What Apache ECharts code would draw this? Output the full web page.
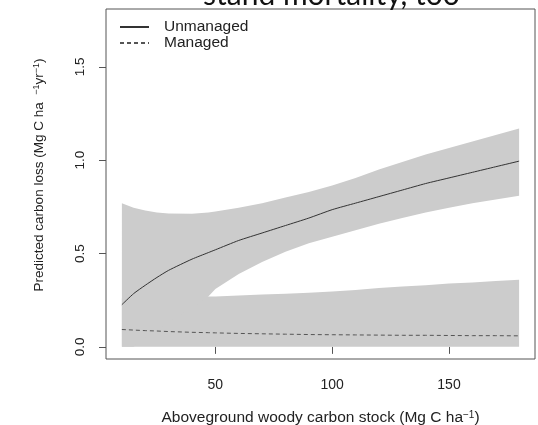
<!DOCTYPE html>
<html>
<head>
<meta charset="utf-8">
<script src="https://cdn.jsdelivr.net/npm/echarts@6/dist/echarts.min.js"></script>
<style>html,body{margin:0;padding:0;background:#fff;}#c{width:538px;height:425px;}</style>
</head>
<body>
<div id="c"></div>
<script>
const xs      = [10, 15, 20, 25, 30, 40, 47, 50, 60, 70, 80, 90, 100, 110, 120, 130, 140, 150, 160, 170, 180];
const unmanagedMean  = [0.226, 0.285, 0.33, 0.372, 0.41, 0.47, 0.505, 0.52, 0.57, 0.61, 0.65, 0.69, 0.735, 0.77, 0.805, 0.84, 0.875, 0.905, 0.935, 0.965, 0.995];
const unmanagedUpper = [0.77, 0.745, 0.73, 0.72, 0.715, 0.713, 0.72, 0.725, 0.745, 0.77, 0.80, 0.83, 0.865, 0.905, 0.95, 0.99, 1.03, 1.065, 1.10, 1.135, 1.17];
const unmanagedLower = [0.0, 0.0, 0.05, 0.09, 0.13, 0.21, 0.27, 0.31, 0.39, 0.455, 0.51, 0.555, 0.59, 0.625, 0.66, 0.69, 0.72, 0.745, 0.77, 0.79, 0.81];
const managedMean    = [0.093, 0.09, 0.087, 0.085, 0.082, 0.078, 0.076, 0.075, 0.072, 0.07, 0.068, 0.066, 0.065, 0.064, 0.063, 0.062, 0.062, 0.061, 0.06, 0.06, 0.059];
const managedUpper   = [0.26, 0.262, 0.264, 0.265, 0.266, 0.268, 0.27, 0.27, 0.275, 0.28, 0.285, 0.29, 0.297, 0.305, 0.315, 0.323, 0.33, 0.34, 0.345, 0.353, 0.36];
const managedLower   = [0, 0, 0, 0, 0, 0, 0, 0, 0, 0, 0, 0, 0, 0, 0, 0, 0, 0, 0, 0, 0];
const seriesNames = ['Unmanaged', 'Managed'];
const xTicks = [50, 100, 150];
const yTicks = [0, 0.5, 1.0, 1.5];
const titleText = 'stand mortality, too';

const FONT = '"Liberation Sans", Arial, sans-serif';
const chart = echarts.init(document.getElementById('c'), null, {renderer: 'canvas'});

function band(upper, lower) {
  return {
    type: 'custom',
    silent: true,
    clip: true,
    data: [[xs[0], lower[0]]],
    renderItem: function (params, api) {
      const pts = [];
      for (let i = 0; i < xs.length; i++) pts.push(api.coord([xs[i], upper[i]]));
      for (let i = xs.length - 1; i >= 0; i--) pts.push(api.coord([xs[i], lower[i]]));
      return {type: 'polygon', shape: {points: pts}, style: {fill: '#cccccc', stroke: null}};
    },
    z: 1
  };
}

const option = {
  backgroundColor: '#ffffff',
  animation: false,
  textStyle: {fontFamily: FONT},
  grid: {left: 106, right: 3, top: 9, bottom: 66, show: true, borderColor: '#555', borderWidth: 1,
    backgroundColor: 'transparent', containLabel: false, outerBoundsMode: 'none'},
  legend: {
    left: 119, top: 19, orient: 'vertical', itemWidth: 29, itemHeight: 14, itemGap: 0,
    padding: 0,
    data: seriesNames,
    itemStyle: {opacity: 0},
    textStyle: {fontFamily: FONT, fontSize: 15.5, color: '#222', padding: [0, 0, 0, 10]}
  },
  xAxis: {
    type: 'value', min: 3.2, max: 186.8,
    axisLine: {show: false},
    splitLine: {show: false},
    axisTick: {show: true, length: 7, customValues: xTicks, lineStyle: {color: '#555'}},
    axisLabel: {customValues: xTicks, fontSize: 14, color: '#222', margin: 19, fontFamily: FONT},
    name: 'Aboveground woody carbon stock (Mg C ha{sup|\u22121})',
    nameLocation: 'middle', nameGap: 51,
    nameTextStyle: {fontSize: 15.5, color: '#222', fontFamily: FONT,
      rich: {sup: {fontSize: 10, verticalAlign: 'top', color: '#222', fontFamily: FONT}}}
  },
  yAxis: {
    type: 'value', min: -0.065, max: 1.81,
    axisLine: {show: false},
    splitLine: {show: false},
    axisTick: {show: true, length: 7, customValues: yTicks, lineStyle: {color: '#555'}},
    axisLabel: {customValues: yTicks, rotate: 90, fontSize: 13.5, color: '#222', margin: 19, fontFamily: FONT,
      formatter: v => v.toFixed(1)},
    name: 'Predicted carbon loss (Mg C ha  {sup|\u22121}yr{sup|\u22121})',
    nameLocation: 'middle', nameGap: 60,
    nameTextStyle: {fontSize: 13.5, color: '#222', fontFamily: FONT, padding: [0, 0, 0, 18],
      rich: {sup: {fontSize: 9, verticalAlign: 'top', color: '#222', fontFamily: FONT}}}
  },
  graphic: [{
    type: 'text', left: 203, top: -20, z: 100,
    style: {text: titleText, fontFamily: 'Lato, "Open Sans", sans-serif', fontSize: 30, fill: '#111'}
  }],
  series: [
    band(managedUpper, managedLower),
    band(unmanagedUpper, unmanagedLower),
    {
      name: seriesNames[0], type: 'line', symbol: 'none', z: 5, smooth: 0.2,
      data: xs.map((x, i) => [x, unmanagedMean[i]]),
      lineStyle: {color: '#333', width: 1},
      itemStyle: {color: '#333'}
    },
    {
      name: seriesNames[1], type: 'line', symbol: 'none', z: 5,
      data: xs.map((x, i) => [x, managedMean[i]]),
      lineStyle: {color: '#555', width: 1, type: [4, 3]},
      itemStyle: {color: '#555'}
    }
  ]
};
chart.setOption(option);
</script>
</body>
</html>
